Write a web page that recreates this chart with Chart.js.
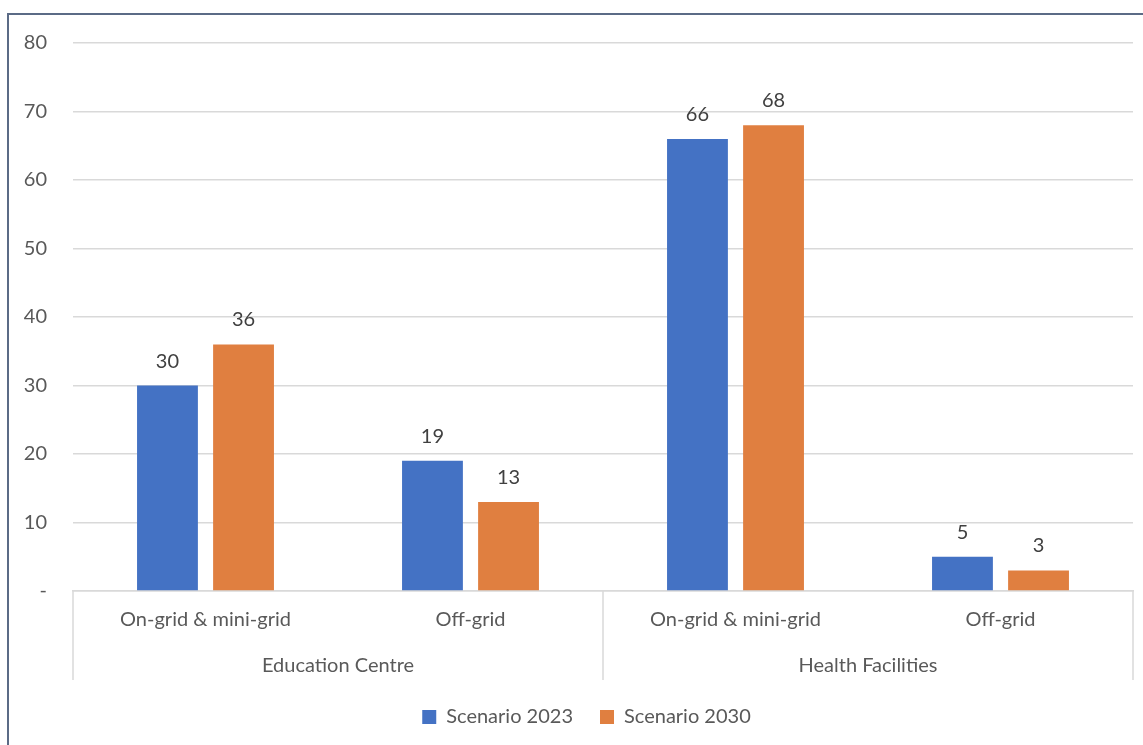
<!DOCTYPE html>
<html>
<head>
<meta charset="utf-8">
<title>Scenario 2023 vs 2030</title>
<script src="https://cdn.jsdelivr.net/npm/chart.js@4.4.0/dist/chart.umd.min.js"></script>
<style>
  html, body { margin: 0; padding: 0; background: #fff; overflow: hidden; }
  #frame {
    position: absolute; left: 7px; top: 13px; width: 1200px; height: 800px;
    border-left: 2px solid #5b6b86; border-top: 2px solid #5b6b86;
  }
  canvas { position: absolute; left: 0; top: 0; }
</style>
</head>
<body>
<div id="frame"></div>
<canvas id="barChart" width="1143" height="745"></canvas>
<script>
const categories = ['On-grid & mini-grid', 'Off-grid', 'On-grid & mini-grid', 'Off-grid'];
const groups = ['Education Centre', 'Health Facilities'];
const scenario2023 = [30, 19, 66, 5];
const scenario2030 = [36, 13, 68, 3];
const seriesNames = ['Scenario 2023', 'Scenario 2030'];

const FONT = 'Lato, "Open Sans", sans-serif';
const SIZE = 20;
const TEXT = '#595959';
const GRID = '#d9d9d9';

// value labels above each bar
const barValues = {
  id: 'barValues',
  afterDatasetsDraw(chart) {
    const ctx = chart.ctx;
    ctx.save();
    ctx.font = SIZE + 'px ' + FONT;
    ctx.fillStyle = '#404040';
    ctx.textAlign = 'center';
    ctx.textBaseline = 'alphabetic';
    chart.data.datasets.forEach((ds, i) => {
      chart.getDatasetMeta(i).data.forEach((bar, j) => {
        ctx.fillText(ds.data[j], bar.x, bar.y - 18);
      });
    });
    ctx.restore();
  }
};

// vertical separators between the two groups on the category axis
const groupLines = {
  id: 'groupLines',
  afterDraw(chart) {
    const x = chart.scales.x;
    const x2 = chart.scales.x2;
    const mid = (x.getPixelForValue(1) + x.getPixelForValue(2)) / 2;
    const ctx = chart.ctx;
    ctx.save();
    ctx.strokeStyle = GRID;
    ctx.lineWidth = 1.5;
    [x.left, mid, x.right].forEach(px => {
      ctx.beginPath();
      ctx.moveTo(px, x.top);
      ctx.lineTo(px, x2.bottom);
      ctx.stroke();
    });
    ctx.restore();
  }
};

// nudge the legend a little to the right
const legendNudge = {
  id: 'legendNudge',
  afterLayout(chart) {
    chart.legend.left += 15;
    chart.legend.right += 15;
  }
};

new Chart(document.getElementById('barChart').getContext('2d'), {
  type: 'bar',
  data: {
    labels: categories,
    datasets: [
      { label: seriesNames[0], data: scenario2023, backgroundColor: '#4472C4' },
      { label: seriesNames[1], data: scenario2030, backgroundColor: '#E07F40' }
    ]
  },
  options: {
    responsive: false,
    animation: false,
    categoryPercentage: 0.574,
    barPercentage: 0.8,
    layout: { padding: { left: 10, top: 43, right: 10, bottom: 8 } },
    plugins: {
      legend: {
        position: 'bottom',
        labels: {
          font: { family: FONT, size: SIZE },
          color: TEXT,
          boxWidth: 14,
          boxHeight: 14,
          padding: 27
        }
      },
      tooltip: { enabled: false }
    },
    scales: {
      y: {
        min: 0,
        max: 80,
        ticks: {
          stepSize: 10,
          color: TEXT,
          font: { family: FONT, size: SIZE },
          padding: 26,
          callback: v => (v === 0 ? '-' : v)
        },
        grid: { color: GRID, lineWidth: 1.5, drawTicks: false },
        border: { display: false },
        afterFit(scale) { scale.width = 63; }
      },
      x: {
        ticks: { color: TEXT, font: { family: FONT, size: SIZE }, padding: 17 },
        grid: { display: false, drawTicks: false },
        border: { display: true, color: GRID, width: 1.5 },
        afterFit(scale) { scale.height = 46; }
      },
      x2: {
        type: 'category',
        position: 'bottom',
        labels: groups,
        offset: true,
        ticks: { color: TEXT, font: { family: FONT, size: SIZE }, padding: 17 },
        grid: { display: false, drawTicks: false },
        border: { display: false },
        afterFit(scale) { scale.height = 43; }
      }
    }
  },
  plugins: [barValues, groupLines, legendNudge]
});
</script>
</body>
</html>
